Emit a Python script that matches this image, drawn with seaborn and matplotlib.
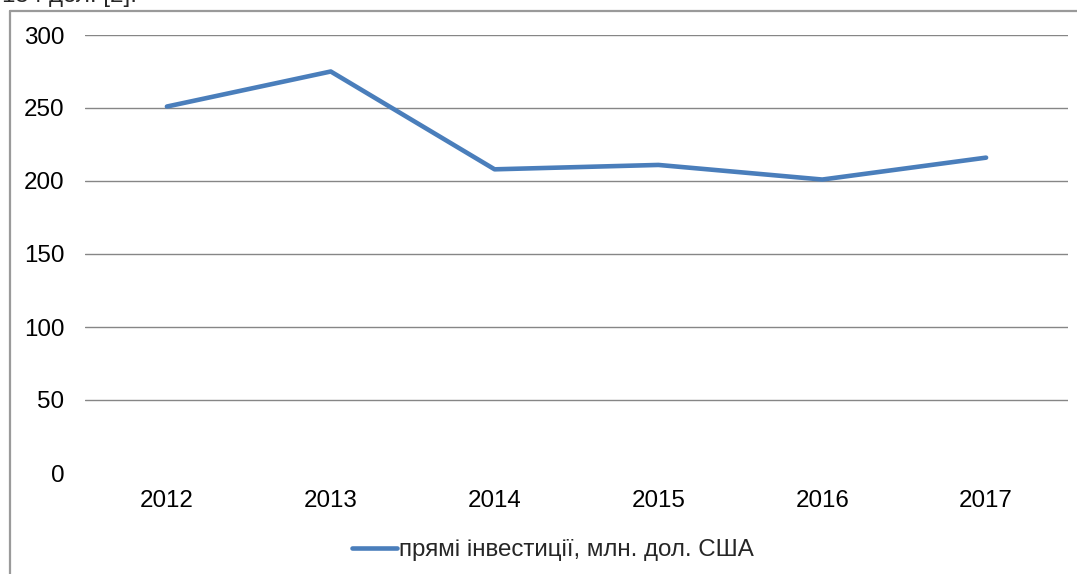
import matplotlib
matplotlib.use("Agg")
import matplotlib.pyplot as plt
from matplotlib.lines import Line2D
import seaborn as sns
import pandas as pd

years = ["2012", "2013", "2014", "2015", "2016", "2017"]
investments = [251, 275, 208, 211, 201, 216]
y_ticks = [0, 50, 100, 150, 200, 250, 300]
series_label = "прямі інвестиції, млн. дол. США"

sns.set_style("white")
plt.rcParams["font.family"] = ["Liberation Sans", "DejaVu Sans"]
FS = 17.4

W, H = 1077, 574
fig = plt.figure(figsize=(W / 100, H / 100), dpi=100)
ax = fig.add_axes([85 / W, 1 - 473 / H, (1068 - 85) / W, (473 - 35) / H])

df = pd.DataFrame({"year": years, "value": investments})
sns.lineplot(data=df, x="year", y="value", ax=ax, color="#4a7ebb",
             linewidth=3.3, sort=False, label=series_label, legend=False)

ax.set_xlim(-0.5, len(years) - 0.5)
ax.set_ylim(0, 300)
ax.set_yticks(y_ticks)
ax.set_xlabel("")
ax.set_ylabel("")
for s in ax.spines.values():
    s.set_visible(False)

# horizontal gridlines above zero
for v in y_ticks[1:]:
    ax.axhline(v, color="#868686", linewidth=1.0, zorder=0)

ax.tick_params(axis="y", length=0, pad=15, labelsize=FS, labelcolor="#000000")
ax.tick_params(axis="x", length=0, pad=12.5, labelsize=FS, labelcolor="#000000")

handle = Line2D([], [], color="#4a7ebb", linewidth=3.3)
fig.legend([handle], [series_label], loc="center",
           bbox_to_anchor=(553 / W, 1 - 550 / H), frameon=False,
           fontsize=FS, handlelength=1.85, handletextpad=0.1)

# chart box border (left and top edges)
fig.add_artist(Line2D([10 / W, 10 / W], [0, 1 - 11 / H], transform=fig.transFigure,
                      color="#9a9a9a", linewidth=1.6))
fig.add_artist(Line2D([10 / W, 1], [1 - 11 / H, 1 - 11 / H], transform=fig.transFigure,
                      color="#9a9a9a", linewidth=1.6))

# end of the preceding text line
fig.text(2 / W, 1 - 2 / H, "154 дол. [2].", fontsize=FS, va="baseline", ha="left")

fig.savefig("out.png", dpi=100)
